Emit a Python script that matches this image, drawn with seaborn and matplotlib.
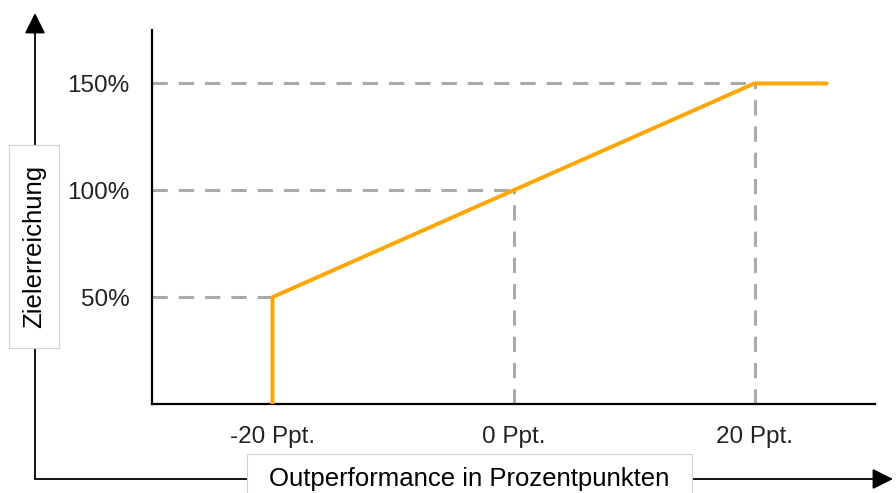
import matplotlib
matplotlib.use("Agg")
import matplotlib.pyplot as plt
import seaborn as sns
import pandas as pd

# Kurve der Zielerreichung
outperformance = [-20, -20, 20, 26]
zielerreichung = [0, 50, 150, 150]

# Hilfslinien (Stützpunkte)
guide_x = [-20, 0, 20]
guide_y = [50, 100, 150]

x_ticks = [-20, 0, 20]
x_labels = ["-20 Ppt.", "0 Ppt.", "20 Ppt."]
y_ticks = [50, 100, 150]
y_labels = ["50%", "100%", "150%"]

sns.set_style("white")
plt.rcParams["font.family"] = ["Liberation Sans", "DejaVu Sans"]

fig = plt.figure(figsize=(8.96, 4.93), dpi=100)
ax = fig.add_axes([152 / 896, 1 - 404 / 493, (875 - 152) / 896, (404 - 30) / 493])

xmin, xmax = -30, 30
ax.set_xlim(xmin, xmax)
ax.set_ylim(0, 175)

grau = "#aaaaaa"
dash = (0, (5, 3.6))
ax.hlines(guide_y, xmin, guide_x, colors=grau, linestyles=dash, linewidth=2.2, zorder=1)
ax.vlines(guide_x[1:], 0, guide_y[1:], colors=grau, linestyles=dash, linewidth=2.2, zorder=1)

df = pd.DataFrame({"x": outperformance, "y": zielerreichung})
sns.lineplot(data=df, x="x", y="y", sort=False, estimator=None, color="#ffa500",
             linewidth=2.8, ax=ax, zorder=3)

ax.set_xticks(x_ticks)
ax.set_xticklabels(x_labels)
ax.set_yticks(y_ticks)
ax.set_yticklabels(y_labels)
ax.tick_params(axis="both", length=0, labelsize=17.5, colors="#222222")
ax.tick_params(axis="x", pad=16)
ax.tick_params(axis="y", pad=16)
ax.set_xlabel("")
ax.set_ylabel("")

for s in ["top", "right"]:
    ax.spines[s].set_visible(False)
for s in ["left", "bottom"]:
    ax.spines[s].set_color("black")
    ax.spines[s].set_linewidth(1.6)

# äußere Achsenpfeile
ox, oy = 35 / 896, 1 - 479 / 493
pfeil = "-|>,head_length=0.9,head_width=0.45"
fig.add_artist(matplotlib.patches.FancyArrowPatch(
    (ox, oy), (ox, 1 - 13 / 493), transform=fig.transFigure,
    arrowstyle=pfeil, mutation_scale=14,
    color="black", linewidth=1.3, shrinkA=0, shrinkB=0))
fig.add_artist(matplotlib.patches.FancyArrowPatch(
    (ox, oy), (893 / 896, oy), transform=fig.transFigure,
    arrowstyle=pfeil, mutation_scale=14,
    color="black", linewidth=1.3, shrinkA=0, shrinkB=0))

# Beschriftungskästen
fig.add_artist(matplotlib.patches.Rectangle(
    (9 / 896, 1 - 348 / 493), 50 / 896, 203 / 493, transform=fig.transFigure,
    facecolor="white", edgecolor="#d0d0d0", linewidth=0.8, zorder=5))
fig.text(34 / 896, 1 - 246 / 493, "Zielerreichung", rotation=90, ha="center", va="center",
         fontsize=18.5, color="black", zorder=6)

fig.add_artist(matplotlib.patches.Rectangle(
    (247 / 896, -0.01), 445 / 896, (493 - 454) / 493 + 0.01, transform=fig.transFigure,
    facecolor="white", edgecolor="#d0d0d0", linewidth=0.8, zorder=5))
fig.text(469 / 896, 1 - 479 / 493, "Outperformance in Prozentpunkten", ha="center", va="center",
         fontsize=18.5, color="black", zorder=6)

fig.savefig("out.png", dpi=100)
